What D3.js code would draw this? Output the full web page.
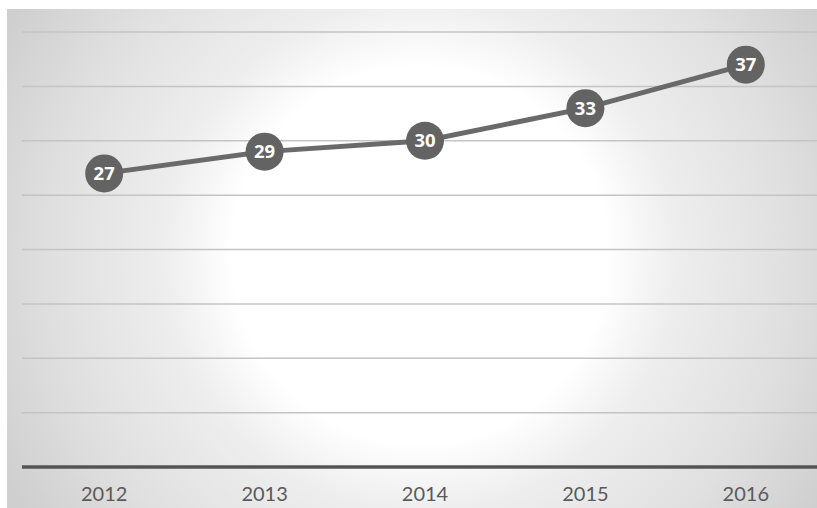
<!DOCTYPE html>
<html>
<head>
<meta charset="utf-8">
<script src="https://cdn.jsdelivr.net/npm/d3@7"></script>
<style>
  html, body { margin: 0; padding: 0; background: #ffffff; }
  svg { display: block; }
</style>
</head>
<body>
<svg id="chart" width="817" height="508"></svg>
<script>
// Yearly values
const years = ["2012", "2013", "2014", "2015", "2016"];
const values = [27, 29, 30, 33, 37];
const yTicks = [0, 5, 10, 15, 20, 25, 30, 35, 40];

const W = 817, H = 508;
const svg = d3.select("#chart");

// Panel background: bright centre fading to grey towards the edges
const defs = svg.append("defs");
const grad = defs.append("radialGradient")
  .attr("id", "bg")
  .attr("gradientUnits", "userSpaceOnUse")
  .attr("cx", 420).attr("cy", 255).attr("r", 470);
grad.append("stop").attr("offset", "0").attr("stop-color", "#ffffff");
grad.append("stop").attr("offset", "0.40").attr("stop-color", "#ffffff");
grad.append("stop").attr("offset", "0.54").attr("stop-color", "#eeeeee");
grad.append("stop").attr("offset", "0.78").attr("stop-color", "#e0e0e0");
grad.append("stop").attr("offset", "1").attr("stop-color", "#cfcfcf");

svg.append("rect")
  .attr("x", 7).attr("y", 9)
  .attr("width", W - 7).attr("height", H - 9)
  .attr("fill", "url(#bg)");

const x = d3.scaleBand().domain(years).range([24, 826]);
const y = d3.scaleLinear().domain([0, 40]).range([467, 32]);

// Horizontal gridlines
svg.append("g")
  .selectAll("line")
  .data(yTicks.filter(t => t > 0))
  .join("line")
  .attr("x1", 22).attr("x2", W)
  .attr("y1", d => y(d)).attr("y2", d => y(d))
  .attr("stroke", "#c4c4c4")
  .attr("stroke-width", 1.5);

// Category axis
const xAxis = svg.append("g")
  .attr("transform", `translate(0,${y(0)})`)
  .call(d3.axisBottom(x).tickSize(0).tickPadding(20));
xAxis.select(".domain").remove();
xAxis.append("line")
  .attr("x1", 22).attr("x2", W)
  .attr("y1", 0).attr("y2", 0)
  .attr("stroke", "#545454")
  .attr("stroke-width", 3.5);
xAxis.selectAll("text")
  .attr("fill", "#5a5a5a")
  .attr("font-family", "Lato, 'Open Sans', sans-serif")
  .attr("font-size", 20);

const pts = years.map((yr, i) => ({ yr, v: values[i] }));
const cx = d => x(d.yr) + x.bandwidth() / 2;

// Trend line
svg.append("path")
  .datum(pts)
  .attr("fill", "none")
  .attr("stroke", "#6a6a6a")
  .attr("stroke-width", 5)
  .attr("d", d3.line().x(cx).y(d => y(d.v)));

// Markers with value labels
const marks = svg.append("g")
  .selectAll("g")
  .data(pts)
  .join("g")
  .attr("transform", d => `translate(${cx(d)},${y(d.v)})`);
marks.append("circle")
  .attr("r", 19)
  .attr("fill", "#636363");
marks.append("text")
  .attr("text-anchor", "middle")
  .attr("dy", "0.36em")
  .attr("fill", "#ffffff")
  .attr("font-family", "'Open Sans', sans-serif")
  .attr("font-weight", "bold")
  .attr("font-size", 18.5)
  .text(d => d.v);
</script>
</body>
</html>
